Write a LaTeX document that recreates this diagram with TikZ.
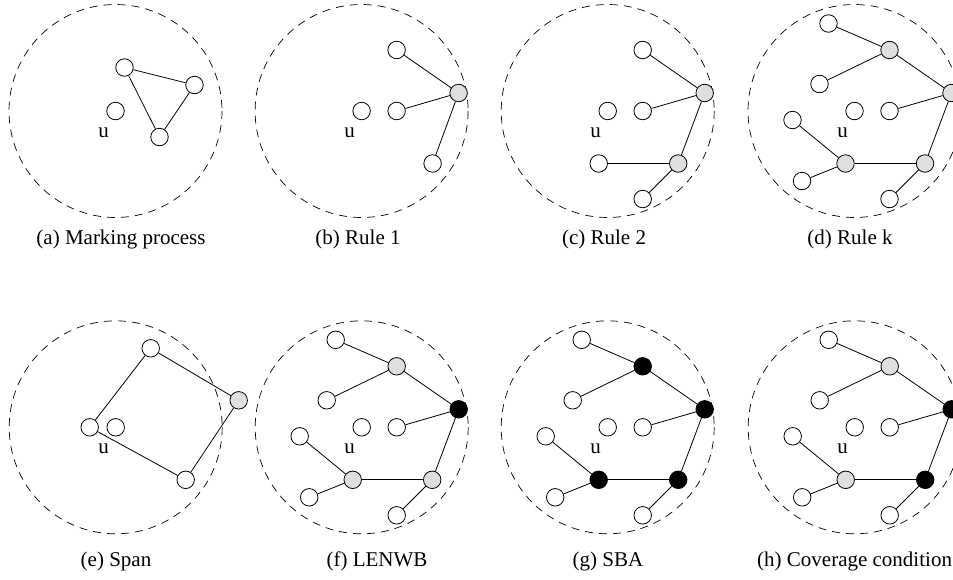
\documentclass[tikz,border=0pt]{standalone}
\usepackage{fontspec}
\setmainfont{Liberation Serif}

% Tree used by the rule-k style panels: #1 = name prefix,
% #2..#5 = styles of the four relay nodes
\newcommand\relaytree[5]{%
  \node[vtx] (#1u)  at (0,0) {};
  \node[lbl] (#1ul) at (-12,21.5) {u};
  \node[vtx] (#1n1) at (-26,-87.5) {};
  \node[#2]  (#1g1) at (35,-61) {};
  \node[vtx] (#1n2) at (-35,-27) {};
  \node[#3]  (#1g2) at (97,-18) {};
  \node[vtx] (#1n3) at (35,0) {};
  \node[vtx] (#1n4) at (-62,9) {};
  \node[#4]  (#1g3) at (-9,52.5) {};
  \node[#5]  (#1g4) at (70.5,52.5) {};
  \node[vtx] (#1n5) at (-52.5,70) {};
  \node[vtx] (#1n6) at (35,88) {};
  \draw[link] (#1n1) -- (#1g1);
  \draw[link] (#1n2) -- (#1g1);
  \draw[link] (#1g1) -- (#1g2);
  \draw[link] (#1n3) -- (#1g2);
  \draw[link] (#1g2) -- (#1g4);
  \draw[link] (#1g4) -- (#1g3);
  \draw[link] (#1g3) -- (#1n4);
  \draw[link] (#1g3) -- (#1n5);
  \draw[link] (#1g4) -- (#1n6);
}

\begin{document}
\begin{tikzpicture}[x=1pt,y=-1pt,
  vtx/.style={circle,draw,line width=0.8pt,minimum size=17.5pt,inner sep=0pt,fill=white},
  grayvtx/.style={vtx,fill=gray!25},
  blackvtx/.style={vtx,fill=black},
  region/.style={draw,dash pattern=on 8pt off 6pt,line width=0.7pt},
  link/.style={draw,line width=0.8pt},
  lbl/.style={font=\fontsize{21}{24}\selectfont,inner sep=0pt},
  captext/.style={font=\fontsize{21}{24}\selectfont,inner sep=0pt}]

\useasboundingbox (0,0) rectangle (953,579);
\clip (0,0) rectangle (953,579);

% (a) marking process
\begin{scope}[shift={(115.5,111)}]
  \draw[region] (0,0) circle[radius=106.5];
  \node[vtx] (au) at (0,0) {};
  \node[lbl] (aul) at (-12,21.5) {u};
  \node[vtx] (a1) at (9,-43.5) {};
  \node[vtx] (a2) at (79,-26) {};
  \node[vtx] (a3) at (44,26) {};
  \draw[link] (a1) -- (a2);
  \draw[link] (a2) -- (a3);
  \draw[link] (a3) -- (a1);
\end{scope}

% (b) rule 1
\begin{scope}[shift={(361.6,111)}]
  \draw[region] (0,0) circle[radius=106.5];
  \node[vtx] (bu) at (0,0) {};
  \node[lbl] (bul) at (-12,21.5) {u};
  \node[vtx] (bn1) at (35,-61) {};
  \node[grayvtx] (bg) at (97,-18) {};
  \node[vtx] (bn2) at (35,0) {};
  \node[vtx] (bn3) at (71,52.5) {};
  \draw[link] (bn1) -- (bg);
  \draw[link] (bn2) -- (bg);
  \draw[link] (bg) -- (bn3);
\end{scope}

% (c) rule 2
\begin{scope}[shift={(607.7,111)}]
  \draw[region] (0,0) circle[radius=106.5];
  \node[vtx] (cu) at (0,0) {};
  \node[lbl] (cul) at (-12,21.5) {u};
  \node[vtx] (cn1) at (35,-61) {};
  \node[grayvtx] (cg1) at (97,-18) {};
  \node[vtx] (cn2) at (35,0) {};
  \node[vtx] (cn3) at (-9,52.5) {};
  \node[grayvtx] (cg2) at (70.5,52.5) {};
  \node[vtx] (cn4) at (35,88) {};
  \draw[link] (cn1) -- (cg1);
  \draw[link] (cn2) -- (cg1);
  \draw[link] (cg1) -- (cg2);
  \draw[link] (cg2) -- (cn3);
  \draw[link] (cg2) -- (cn4);
\end{scope}

% (d) rule k
\begin{scope}[shift={(854.5,111)}]
  \draw[region] (0,0) circle[radius=106.5];
  \relaytree{d}{grayvtx}{grayvtx}{grayvtx}{grayvtx}
\end{scope}

% (e) span
\begin{scope}[shift={(115.7,427.3)}]
  \draw[region] (0,0) circle[radius=106.5];
  \node[vtx] (eu) at (0,0) {};
  \node[lbl] (eul) at (-12,21.5) {u};
  \node[vtx] (el) at (-26,0) {};
  \node[vtx] (et) at (35,-79) {};
  \node[grayvtx] (er) at (123,-27) {};
  \node[vtx] (eb) at (70,52.5) {};
  \draw[link] (el) -- (et);
  \draw[link] (et) -- (er);
  \draw[link] (er) -- (eb);
  \draw[link] (eb) -- (el);
\end{scope}

% (f) LENWB
\begin{scope}[shift={(361.7,427.3)}]
  \draw[region] (0,0) circle[radius=106.5];
  \relaytree{f}{grayvtx}{blackvtx}{grayvtx}{grayvtx}
\end{scope}

% (g) SBA
\begin{scope}[shift={(607.7,427.3)}]
  \draw[region] (0,0) circle[radius=106.5];
  \relaytree{g}{blackvtx}{blackvtx}{blackvtx}{blackvtx}
\end{scope}

% (h) coverage condition
\begin{scope}[shift={(854.7,427.3)}]
  \draw[region] (0,0) circle[radius=106.5];
  \relaytree{h}{grayvtx}{blackvtx}{grayvtx}{blackvtx}
\end{scope}

% captions
\node[captext] (capa) at (121,239.5) {(a) Marking process};
\node[captext] (capb) at (358,239.5) {(b) Rule 1};
\node[captext] (capc) at (604,239.5) {(c) Rule 2};
\node[captext] (capd) at (850,239.5) {(d) Rule k};
\node[captext] (cape) at (116,561.5) {(e) Span};
\node[captext] (capf) at (377,561.5) {(f) LENWB};
\node[captext] (capg) at (608,561.5) {(g) SBA};
\node[captext,anchor=west] (caph) at (757,561.5) {(h) Coverage condition};
\end{tikzpicture}
\end{document}
